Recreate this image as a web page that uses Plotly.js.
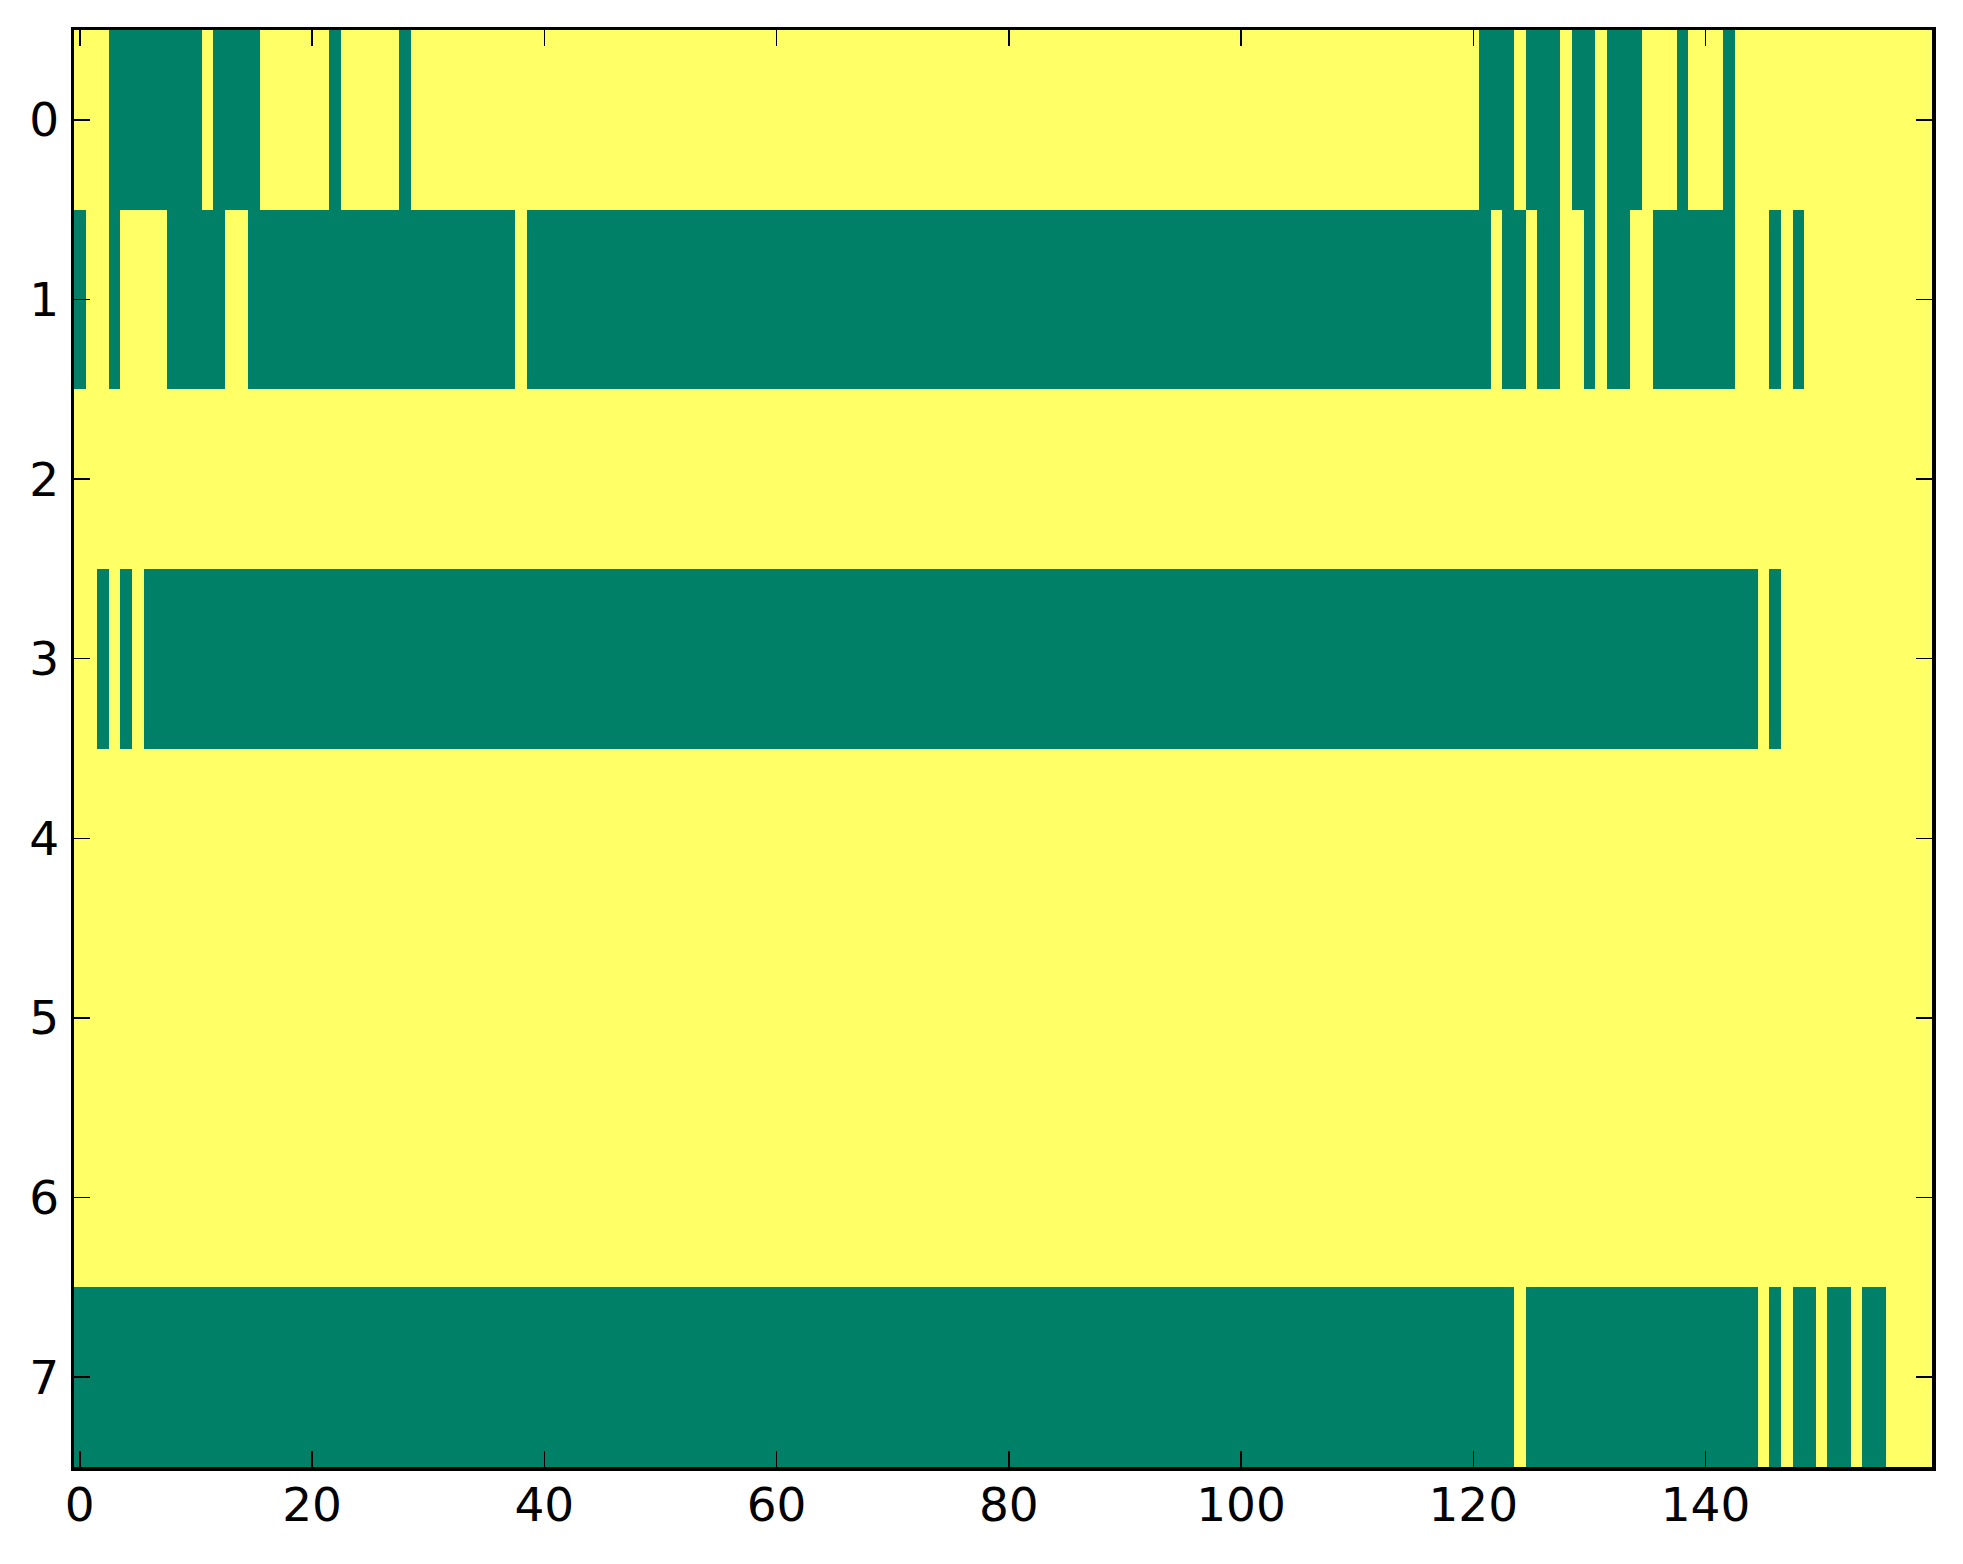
<!DOCTYPE html>
<html>
<head>
<meta charset="utf-8">
<script src="https://cdn.plot.ly/plotly-3.0.1.min.js"></script>
<style>
html,body{margin:0;padding:0;background:#fff;}
#chart{width:1963px;height:1564px;}
</style>
</head>
<body>
<div id="chart"></div>
<script>
// Row values as runs of [value, count] (1 = yellow, 0 = green)
var nCols = 160;
var row0Runs = [[1,3],[0,8],[1,1],[0,4],[1,6],[0,1],[1,5],[0,1],[1,92],[0,3],[1,1],[0,3],[1,1],[0,2],[1,1],[0,3],[1,3],[0,1],[1,3],[0,1],[1,17]];
var row1Runs = [[0,1],[1,2],[0,1],[1,4],[0,5],[1,2],[0,23],[1,1],[0,83],[1,1],[0,2],[1,1],[0,2],[1,2],[0,1],[1,1],[0,2],[1,2],[0,7],[1,3],[0,1],[1,1],[0,1],[1,11]];
var row2Runs = [[1,160]];
var row3Runs = [[1,2],[0,1],[1,1],[0,1],[1,1],[0,139],[1,1],[0,1],[1,13]];
var row4Runs = [[1,160]];
var row5Runs = [[1,160]];
var row6Runs = [[1,160]];
var row7Runs = [[0,124],[1,1],[0,20],[1,1],[0,1],[1,1],[0,2],[1,1],[0,2],[1,1],[0,2],[1,4]];

var rowLabels = [0,1,2,3,4,5,6,7];
var xTickVals = [0,20,40,60,80,100,120,140];

function expand(runs){
  var out = [];
  runs.forEach(function(r){ for(var i=0;i<r[1];i++) out.push(r[0]); });
  return out;
}
var z = [row0Runs,row1Runs,row2Runs,row3Runs,row4Runs,row5Runs,row6Runs,row7Runs].map(expand);
var xs = []; for (var i=0;i<nCols;i++) xs.push(i);

var trace = {
  type:'heatmap',
  z:z, x:xs, y:rowLabels,
  zmin:0, zmax:1,
  colorscale:[[0,'#008066'],[1,'#ffff66']],
  showscale:false,
  hoverinfo:'skip'
};

var axisCommon = {
  showgrid:false, zeroline:false,
  showline:true, linecolor:'#000', linewidth:3.5,
  mirror:'allticks',
  ticks:'inside', ticklen:16, tickwidth:1.5, tickcolor:'#000',
  tickfont:{family:'DejaVu Sans', size:47, color:'#000'}
};

var layout = {
  width:1963, height:1564,
  margin:{l:74, r:31, t:30, b:97},
  paper_bgcolor:'#fff', plot_bgcolor:'#fff',
  xaxis: Object.assign({}, axisCommon, {
    range:[-0.5,159.5], tickmode:'array', tickvals:xTickVals,
    ticktext:xTickVals.map(String), ticklabelstandoff:-6
  }),
  yaxis: Object.assign({}, axisCommon, {
    range:[7.5,-0.5], tickmode:'array', tickvals:rowLabels,
    ticktext:rowLabels.map(String), ticklabelstandoff:2
  }),
  showlegend:false
};

Plotly.newPlot('chart',[trace],layout,{staticPlot:true, displayModeBar:false});
</script>
</body>
</html>
